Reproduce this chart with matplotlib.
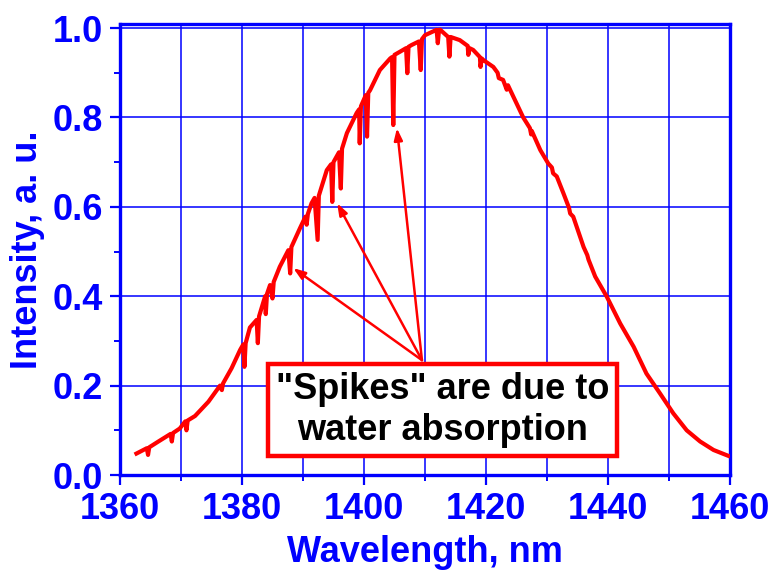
import matplotlib
matplotlib.use("Agg")
import matplotlib.pyplot as plt
from matplotlib.ticker import MultipleLocator

plt.rcParams["font.family"] = ["Liberation Sans", "DejaVu Sans"]
plt.rcParams["font.weight"] = "bold"

# ------------------------------------------------------------
# spectrum (upper envelope + water "spikes")
wavelength = [
    1362.7, 1364.4, 1364.6, 1364.8, 1366.3, 1368.3, 1368.5, 1368.7,
    1369.8, 1370.7, 1370.9, 1371.1, 1372.3, 1374.5, 1376.4, 1376.7,
    1376.9, 1378.3, 1379.7, 1380.2, 1380.4, 1380.6, 1381.3, 1382.4,
    1382.6, 1382.8, 1383.8, 1383.9, 1384.1, 1384.6, 1385.0, 1385.2,
    1386.2, 1387.6, 1387.9, 1388.1, 1389.5, 1390.4, 1390.6, 1390.8,
    1391.4, 1391.9, 1392.4,
    1392.6, 1393.9, 1394.6, 1394.8, 1395.0, 1395.9, 1396.2, 1396.4,
    1397.2, 1398.8, 1399.2, 1399.3, 1399.5, 1400.3, 1400.5, 1400.7,
    1401.0, 1402.6, 1404.3, 1404.6, 1404.8, 1405.0, 1405.9, 1406.9,
    1407.1, 1407.3, 1407.8, 1409.0, 1409.3, 1409.5, 1410.0, 1411.9,
    1412.1, 1412.3, 1412.5, 1413.8, 1414.0, 1414.2, 1415.7, 1417.0,
    1417.1, 1417.3, 1417.9, 1419.0, 1419.1, 1419.3, 1419.6, 1421.2,
    1421.9, 1422.1, 1422.8, 1423.4, 1423.6, 1424.5, 1426.1, 1427.2,
    1427.4, 1427.5, 1428.9, 1430.2, 1430.8, 1431.0, 1431.6, 1432.7,
    1433.6, 1433.8, 1434.3, 1436.0, 1436.6, 1436.8, 1437.9, 1439.8,
    1442.0, 1444.2, 1446.3, 1448.5, 1450.7, 1452.9, 1455.1, 1457.3,
    1459.7,
]
intensity = [
    0.048, 0.060, 0.045, 0.062, 0.075, 0.092, 0.075, 0.094,
    0.104, 0.120, 0.100, 0.122, 0.132, 0.164, 0.200, 0.190,
    0.205, 0.239, 0.280, 0.292, 0.242, 0.295, 0.330, 0.347,
    0.295, 0.355, 0.400, 0.360, 0.405, 0.425, 0.395, 0.432,
    0.466, 0.503, 0.451, 0.510, 0.552, 0.578, 0.560, 0.584,
    0.608, 0.620, 0.526,
    0.625, 0.682, 0.695, 0.611, 0.700, 0.722, 0.641, 0.730,
    0.765, 0.810, 0.818, 0.742, 0.825, 0.850, 0.757, 0.855,
    0.861, 0.906, 0.932, 0.935, 0.783, 0.940, 0.947, 0.955,
    0.899, 0.958, 0.962, 0.970, 0.906, 0.975, 0.984, 0.996,
    0.966, 0.996, 0.996, 0.980, 0.936, 0.980, 0.973, 0.960,
    0.940, 0.955, 0.951, 0.935, 0.913, 0.932, 0.928, 0.913,
    0.900, 0.888, 0.884, 0.862, 0.872, 0.846, 0.800, 0.776,
    0.762, 0.770, 0.727, 0.697, 0.688, 0.675, 0.668, 0.630,
    0.598, 0.585, 0.578, 0.510, 0.492, 0.482, 0.444, 0.399,
    0.339, 0.287, 0.227, 0.183, 0.138, 0.100, 0.075, 0.056,
    0.043,
]

# arrows: all start from the top of the note box
arrow_tail = (1409.5, 0.257)
arrow_heads = [(1388.4, 0.463), (1395.6, 0.608), (1405.4, 0.776)]
note_text = '"Spikes" are due to\nwater absorption'

BLUE = "#0000FF"
RED = "#FF0000"

fig = plt.figure(figsize=(7.73, 5.8), dpi=100)
ax = fig.add_axes([0.1552, 0.181, 0.7892, 0.7776])

ax.plot(wavelength, intensity, color=RED, linewidth=3.0, zorder=3)

for hx, hy in arrow_heads:
    ax.annotate("", xy=(hx, hy), xytext=arrow_tail,
                arrowprops=dict(arrowstyle="-|>,head_length=0.7,head_width=0.25",
                                color=RED, lw=1.8, shrinkA=0, shrinkB=0),
                zorder=4)

ax.text(1412.9, 0.146, note_text, ha="center", va="center",
        fontsize=26, fontweight="bold", color="black", linespacing=1.22,
        bbox=dict(boxstyle="square,pad=0.22", facecolor="white",
                  edgecolor=RED, linewidth=3.2), zorder=5)

ax.set_xlim(1360, 1460)
ax.set_ylim(0, 1.009)
ax.xaxis.set_major_locator(MultipleLocator(20))
ax.xaxis.set_minor_locator(MultipleLocator(10))
ax.yaxis.set_major_locator(MultipleLocator(0.2))
ax.yaxis.set_minor_locator(MultipleLocator(0.1))
ax.yaxis.set_major_formatter(plt.FuncFormatter(lambda v, _: f"{v:.1f}"))

ax.grid(which="both", axis="x", color=BLUE, linewidth=1.1, zorder=0)
ax.grid(which="major", axis="y", color=BLUE, linewidth=1.1, zorder=0)
ax.set_axisbelow(True)

for s in ax.spines.values():
    s.set_color(BLUE)
    s.set_linewidth(2.4)

ax.tick_params(which="major", direction="out", length=7, width=1.6,
               color=BLUE, labelcolor=BLUE, labelsize=26, pad=5)
ax.tick_params(which="minor", direction="out", length=4, width=1.4,
               color=BLUE)
for lab in ax.get_xticklabels() + ax.get_yticklabels():
    lab.set_fontweight("bold")

ax.set_xlabel("Wavelength, nm", fontsize=26, fontweight="bold",
              color=BLUE, labelpad=6)
ax.set_ylabel("Intensity, a. u.", fontsize=26, fontweight="bold",
              color=BLUE, labelpad=6)

fig.savefig("out.png", dpi=100)
